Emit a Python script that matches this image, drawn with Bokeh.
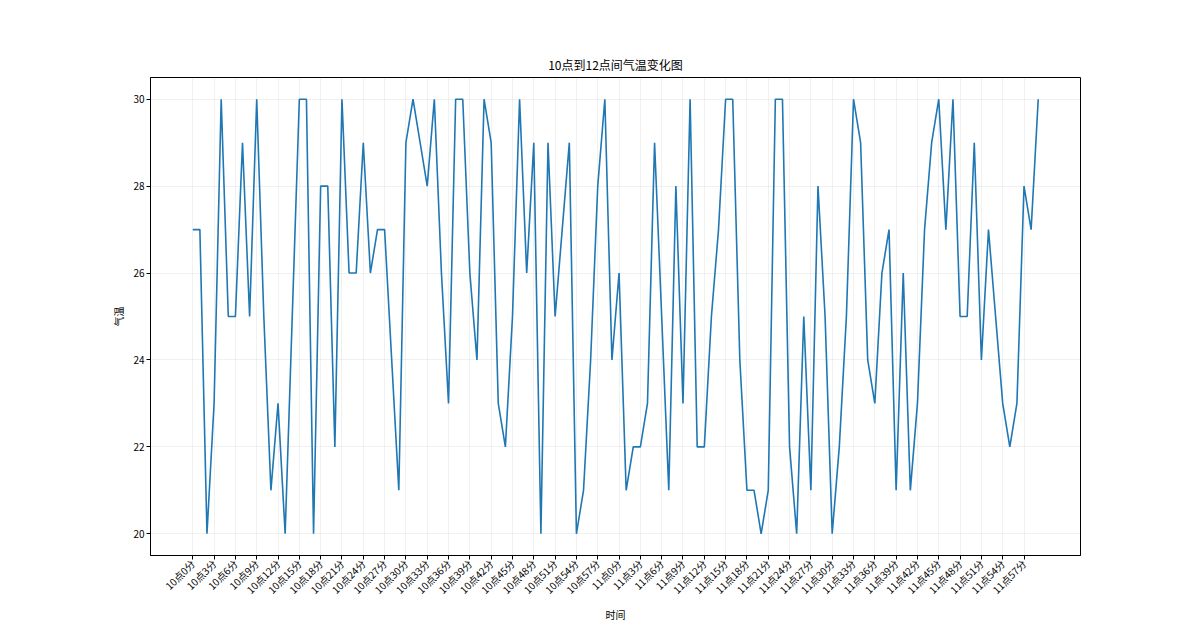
from bokeh.plotting import figure
from bokeh.models import FixedTicker
from bokeh.embed import file_html
from bokeh.resources import INLINE
import math

# ---- data ----
minutes = list(range(120))
temps = [27, 27, 20, 23, 30, 25, 25, 29, 25, 30,
         25, 21, 23, 20, 25, 30, 30, 20, 28, 28,
         22, 30, 26, 26, 29, 26, 27, 27, 24, 21,
         29, 30, 29, 28, 30, 26, 23, 30, 30, 26,
         24, 30, 29, 23, 22, 25, 30, 26, 29, 20,
         29, 25, 27, 29, 20, 21, 24, 28, 30, 24,
         26, 21, 22, 22, 23, 29, 25, 21, 28, 23,
         30, 22, 22, 25, 27, 30, 30, 24, 21, 21,
         20, 21, 30, 30, 22, 20, 25, 21, 28, 25,
         20, 22, 25, 30, 29, 24, 23, 26, 27, 21,
         26, 21, 23, 27, 29, 30, 27, 30, 25, 25,
         29, 24, 27, 25, 23, 22, 23, 28, 27, 30]
time_labels = ["10点{}分".format(m) for m in range(60)] + ["11点{}分".format(m) for m in range(60)]
x_tick_positions = list(range(0, 120, 3))
y_ticks = [20, 22, 24, 26, 28, 30]

FONT = "Noto Sans CJK SC"

p = figure(width=1184, height=624, output_backend="svg", toolbar_location=None,
           x_range=(-5.95, 124.95), y_range=(19.5, 30.5),
           min_border_left=150, min_border_right=104, min_border_top=77, min_border_bottom=54)

p.line(minutes, temps, line_color="#1f77b4", line_width=1.6)

p.title.text = "10点到12点间气温变化图"
p.title.align = "center"
p.title.text_font = FONT
p.title.text_font_size = "12px"
p.title.text_font_style = "normal"
p.title.text_color = "black"

p.xaxis.ticker = FixedTicker(ticks=x_tick_positions)
p.xaxis.major_label_overrides = {i: time_labels[i] for i in x_tick_positions}
p.xaxis.major_label_orientation = math.pi / 4
p.yaxis.ticker = FixedTicker(ticks=y_ticks)

for ax in (p.xaxis, p.yaxis):
    ax.major_label_text_font = FONT
    ax.major_label_text_font_size = "10px"
    ax.major_label_text_color = "black"
    ax.axis_label_text_font = FONT
    ax.axis_label_text_font_size = "10px"
    ax.axis_label_text_font_style = "normal"
    ax.axis_label_text_color = "black"
    ax.minor_tick_line_color = None
    ax.major_tick_in = 0
    ax.major_tick_out = 4
    ax.major_tick_line_color = "black"
    ax.axis_line_color = "black"
    ax.major_label_standoff = 2

p.xaxis.axis_label = "时间"
p.yaxis.axis_label = "气温"
p.xaxis.axis_label_standoff = 2
p.yaxis.axis_label_standoff = 4

p.outline_line_color = "black"
p.outline_line_width = 1
p.outline_line_alpha = 1

p.xgrid.grid_line_color = "#b0b0b0"
p.xgrid.grid_line_alpha = 0.18
p.ygrid.grid_line_color = "#b0b0b0"
p.ygrid.grid_line_alpha = 0.18

p.background_fill_color = "white"
p.border_fill_color = "white"

open("out.html", "w").write(file_html(p, INLINE))
